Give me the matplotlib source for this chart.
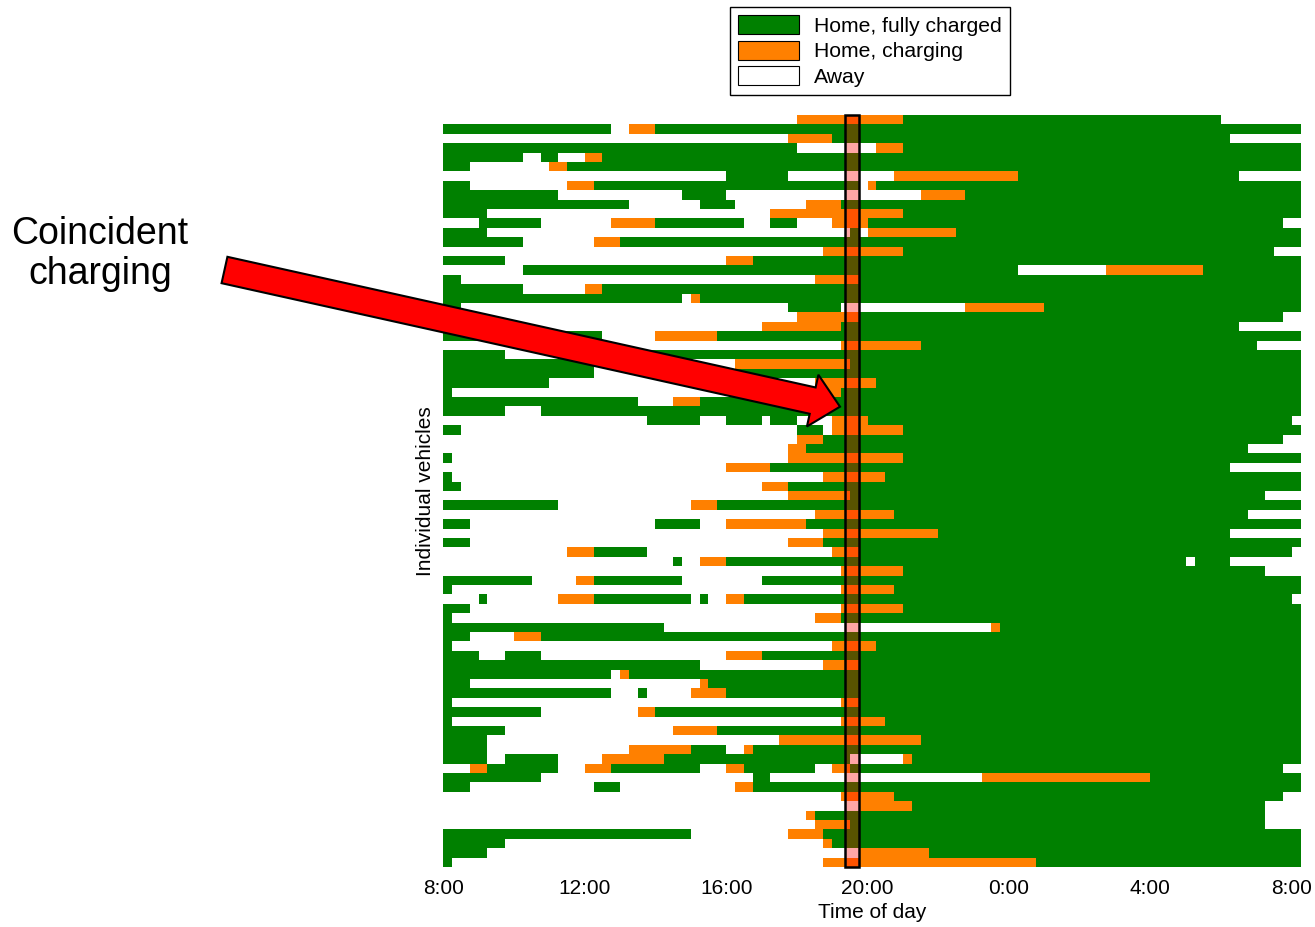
import numpy as np
import matplotlib
matplotlib.use("Agg")
import matplotlib.pyplot as plt
from matplotlib.colors import ListedColormap
from matplotlib.patches import Patch, Rectangle, Polygon

plt.rcParams['font.family'] = ['Liberation Sans', 'DejaVu Sans']

# One string per vehicle: state letter + first 15-minute slot (slot 0 = 8:00)
# W = away, O = home & charging, G = home & fully charged
vehicle_runs = [
    "W0 O40 G52 W88",
    "G0 W19 O21 G24",
    "W0 O39 G44 W89",
    "G0 W40 O49 G52",
    "G0 W9 G11 W13 O16 G18",
    "G0 W3 O12 G14",
    "W0 G32 W39 O51 G65 W90",
    "G0 W3 O14 G17 W47 O48 G49",
    "G0 W13 G27 W32 O54 G59",
    "G0 W21 G29 W33 O41 G45",
    "G0 W5 O37 G52",
    "W0 G4 W11 O19 G24 W34 G37 W40 O44 G48 W95",
    "G0 W5 G46 W47 O48 G58",
    "G0 W9 O17 G20",
    "W0 O43 G52 W94",
    "G0 W7 O32 G35",
    "W0 G9 W65 O75 G86",
    "G0 W2 O42 G47",
    "G0 W9 O16 G18",
    "G0 W27 O28 G29",
    "G0 W2 G39 W45 O59 G68",
    "W0 O40 G47 W95",
    "W0 O36 G45 W90",
    "G0 W18 O24 G31",
    "W0 O45 G54 W92",
    "G0 W7 G18",
    "G0 W17 O33 G46",
    "G0 W17 G31",
    "G0 W12 O42 G49",
    "G0 W1 O42 G45",
    "G0 W22 O26 G29",
    "G0 W7 G11",
    "W0 G23 W29 G32 W36 G37 W40 O44 G48 W96",
    "G0 W2 G40 W43 O44 G52",
    "W0 O40 G43 W95",
    "W0 O39 G41 W91",
    "G0 W1 O39 G52",
    "W0 O32 G37 W89",
    "G0 W1 O43 G50",
    "G0 W2 O36 G39",
    "W0 O39 G46 W93",
    "G0 W13 O28 G31",
    "W0 O42 G51 W91",
    "G0 W3 G24 W29 O32 G41",
    "W0 O43 G56 W89",
    "G0 W3 O39 G43",
    "W0 O14 G17 W23 O44 G47 W96",
    "W0 G26 W27 O29 G32 W84 G85 W89",
    "W0 O45 G52 W93",
    "G0 W10 O15 G17 W27 G36",
    "G0 W1 O45 G51",
    "W0 G4 W5 O13 G17 W28 G29 W30 O32 G34 W96",
    "G0 W3 O45 G52",
    "G0 W1 O42 G45",
    "G0 W25 O62 G63",
    "G0 W3 O8 G11",
    "G0 W1 O44 G49",
    "G0 W4 G7 W11 O32 G36",
    "G0 W29 O43 G47",
    "G0 W19 O20 G21",
    "G0 W3 O29 G30",
    "G0 W19 G22 W23 O28 G32",
    "G0 W1 O45 G47",
    "G0 W11 O22 G24",
    "G0 W1 O45 G50",
    "G0 W7 O26 G31",
    "G0 W5 O38 G54",
    "G0 W5 O21 G28 W32 O34 G35",
    "G0 W5 G7 W13 O18 G25 W46 O52 G53",
    "W0 O3 G5 W13 O16 G19 W29 O32 G34 W42 O44 G46 W95",
    "G0 W11 G35 W37 O61 G80",
    "G0 W3 G17 W20 O33 G35",
    "W0 O45 G51 W95",
    "W0 O47 G53 W93",
    "W0 O41 G42 W93",
    "W0 O42 G46 W93",
    "G0 W28 O39 G43",
    "G0 W7 O43 G44",
    "G0 W5 O47 G55",
    "G0 W1 O43 G67",
]

n_slots = 97                      # 8:00 -> 8:15 next morning
state_codes = {"W": 0, "O": 1, "G": 2}
state_colors = ["white", "#ff8000", "#008000"]
legend_labels = ["Home, fully charged", "Home, charging", "Away"]
legend_colors = ["#008000", "#ff8000", "white"]
tick_hours = [8, 12, 16, 20, 24, 28, 32]
tick_labels = ["8:00", "12:00", "16:00", "20:00", "0:00", "4:00", "8:00"]
peak_start, peak_end = 19.36, 19.75   # highlighted window (hours)


def expand(runs):
    row = np.zeros(n_slots, dtype=int)
    items = runs.split()
    for i, item in enumerate(items):
        start = int(item[1:])
        stop = int(items[i + 1][1:]) if i + 1 < len(items) else n_slots
        row[start:stop] = state_codes[item[0]]
    return row


grid = np.array([expand(r) for r in vehicle_runs])
n_rows = grid.shape[0]

W, H = 1315, 927
fig = plt.figure(figsize=(W / 100, H / 100), dpi=100)
ax = fig.add_axes([443.3 / W, 1 - 867 / H, (1300.7 - 443.3) / W, (867 - 115) / H])

x_edges = 8 + np.arange(n_slots + 1) / 4
y_edges = np.arange(n_rows + 1)
ax.pcolormesh(x_edges, y_edges, grid, cmap=ListedColormap(state_colors),
              vmin=-0.5, vmax=2.5)
ax.set_xlim(8, 8 + n_slots / 4)
ax.set_ylim(n_rows, 0)

# translucent window + outline
ax.add_patch(Rectangle((peak_start, 0), peak_end - peak_start, n_rows,
                       facecolor="red", alpha=0.35, edgecolor="none", zorder=3))
ax.add_patch(Rectangle((peak_start, 0), peak_end - peak_start, n_rows,
                       fill=False, edgecolor="black", lw=1.8, zorder=4, clip_on=False))

for s in ax.spines.values():
    s.set_visible(False)
ax.set_xticks(tick_hours, tick_labels, fontsize=15)
ax.set_yticks([])
ax.tick_params(axis="x", length=0, pad=9)
ax.set_xlabel("Time of day", fontsize=15, labelpad=3)
ax.set_ylabel("Individual vehicles", fontsize=15, labelpad=6)

handles = [Patch(facecolor=c, edgecolor="black", lw=0.8, label=l)
           for c, l in zip(legend_colors, legend_labels)]
leg = fig.legend(handles=handles, loc="upper left",
                 bbox_to_anchor=(730 / W, 1 - 7 / H), frameon=True, fancybox=False,
                 edgecolor="black", framealpha=1, fontsize=15.2, handlelength=2.85,
                 handleheight=1.0, handletextpad=0.72, labelspacing=0.22,
                 borderpad=0.4, borderaxespad=0)
leg.get_frame().set_linewidth(1.0)

# annotation arrow, built in pixel space
tail = np.array([224.5, 270.0])
tip = np.array([840.0, 406.7])
d = (tip - tail) / np.linalg.norm(tip - tail)
n = np.array([-d[1], d[0]])
shaft_w, head_w, head_l = 27, 53, 28
back = tip - d * head_l
pts = np.array([tail + n * shaft_w / 2, back + n * shaft_w / 2, back + n * head_w / 2,
                tip, back - n * head_w / 2, back - n * shaft_w / 2, tail - n * shaft_w / 2])
pts = np.column_stack([pts[:, 0] / W, 1 - pts[:, 1] / H])
fig.add_artist(Polygon(pts, closed=True, transform=fig.transFigure,
                       facecolor="red", edgecolor="black", lw=1.5, joinstyle="miter"))

fig.text(100 / W, 1 - 254 / H, "Coincident\ncharging", ha="center", va="center",
         fontsize=27, linespacing=1.15)

fig.savefig("out.png", dpi=100)
